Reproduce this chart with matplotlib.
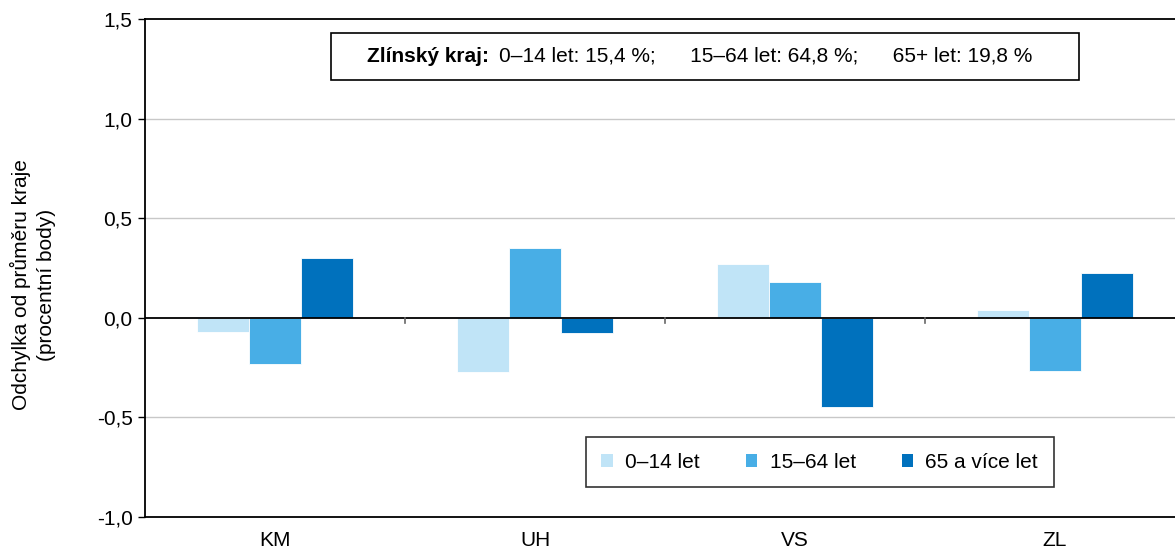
import matplotlib
matplotlib.use("Agg")
import matplotlib.pyplot as plt
import numpy as np
from matplotlib.patches import Patch, Rectangle

plt.rcParams['font.family'] = ['Liberation Sans', 'DejaVu Sans']

categories = ["KM", "UH", "VS", "ZL"]
series_names = ["0–14 let", "15–64 let", "65 a více let"]
v_0_14 = [-0.07, -0.27, 0.27, 0.04]
v_15_64 = [-0.23, 0.35, 0.18, -0.265]
v_65 = [0.30, -0.075, -0.45, 0.225]
colors = ["#c0e4f7", "#48aee6", "#0071bd"]
yticks = [-1.0, -0.5, 0.0, 0.5, 1.0, 1.5]
ytick_labels = ["-1,0", "-0,5", "0,0", "0,5", "1,0", "1,5"]

FS = 15

fig = plt.figure(figsize=(11.75, 5.51), dpi=100)
ax = fig.add_axes([145/1175, 34/551, 1 - 145/1175, 498/551])

x = np.arange(len(categories))
w = 0.2
for i, vals in enumerate([v_0_14, v_15_64, v_65]):
    ax.bar(x + (i - 1) * w, vals, width=w, color=colors[i], zorder=3,
           edgecolor='white', linewidth=0.6)

ax.set_ylim(-1.0, 1.5)
ax.set_xlim(-0.5, -0.5 + (1175 - 145) / 260)
ax.set_yticks(yticks)
ax.set_yticklabels(ytick_labels, fontsize=FS)
ax.tick_params(axis='y', length=5, width=1, direction='out', pad=4)
ax.set_xticks(x)
ax.set_xticklabels(categories, fontsize=FS)
ax.tick_params(axis='x', length=0, pad=10)

for yv in [1.0, 0.5, -0.5]:
    ax.axhline(yv, color='#c8c8c8', linewidth=1, zorder=1)
ax.axhline(0, color='black', linewidth=1.3, zorder=4)
for xv in [0.5, 1.5, 2.5]:
    ax.plot([xv, xv], [0, -0.025], color='#666666', linewidth=1.2, zorder=4,
            clip_on=False)

for s in ['left', 'bottom', 'top']:
    ax.spines[s].set_linewidth(1.3)
    ax.spines[s].set_color('black')
ax.spines['right'].set_visible(False)

ax.set_ylabel("Odchylka od průměru kraje\n(procentní body)", fontsize=FS,
              linespacing=1.4)
ax.yaxis.set_label_coords(-0.086, 0.466)

# top info box
bx0, bx1 = (331 - 145) / 1030, (1079 - 145) / 1030
by0, by1 = (517 - 80) / 498, (517 - 33) / 498
ax.add_patch(Rectangle((bx0, by0), bx1 - bx0, by1 - by0, transform=ax.transAxes,
                       facecolor='white', edgecolor='black', linewidth=1.2,
                       zorder=6))
t_bold = ax.text((367 - 145) / 1030, (by0 + by1) / 2, "Zlínský kraj:",
                 transform=ax.transAxes, fontsize=FS, fontweight='bold',
                 ha='left', va='center', zorder=7)
ax.annotate("0–14 let: 15,4 %;      15–64 let: 64,8 %;      65+ let: 19,8 %",
            xy=(1, 0.5), xycoords=t_bold, xytext=(7, 0),
            textcoords='offset points', fontsize=FS, ha='left', va='center',
            zorder=7)

handles = [Patch(facecolor=c) for c in colors]
leg = ax.legend(handles, series_names, loc='center',
                bbox_to_anchor=(0.655, 0.110),
                ncol=3, fontsize=FS, frameon=True, fancybox=False,
                edgecolor='black', handlelength=0.55, handleheight=0.55,
                columnspacing=2.2, borderpad=0.75, handletextpad=0.6)
leg.get_frame().set_linewidth(1.2)

fig.savefig("out.png", dpi=100)
